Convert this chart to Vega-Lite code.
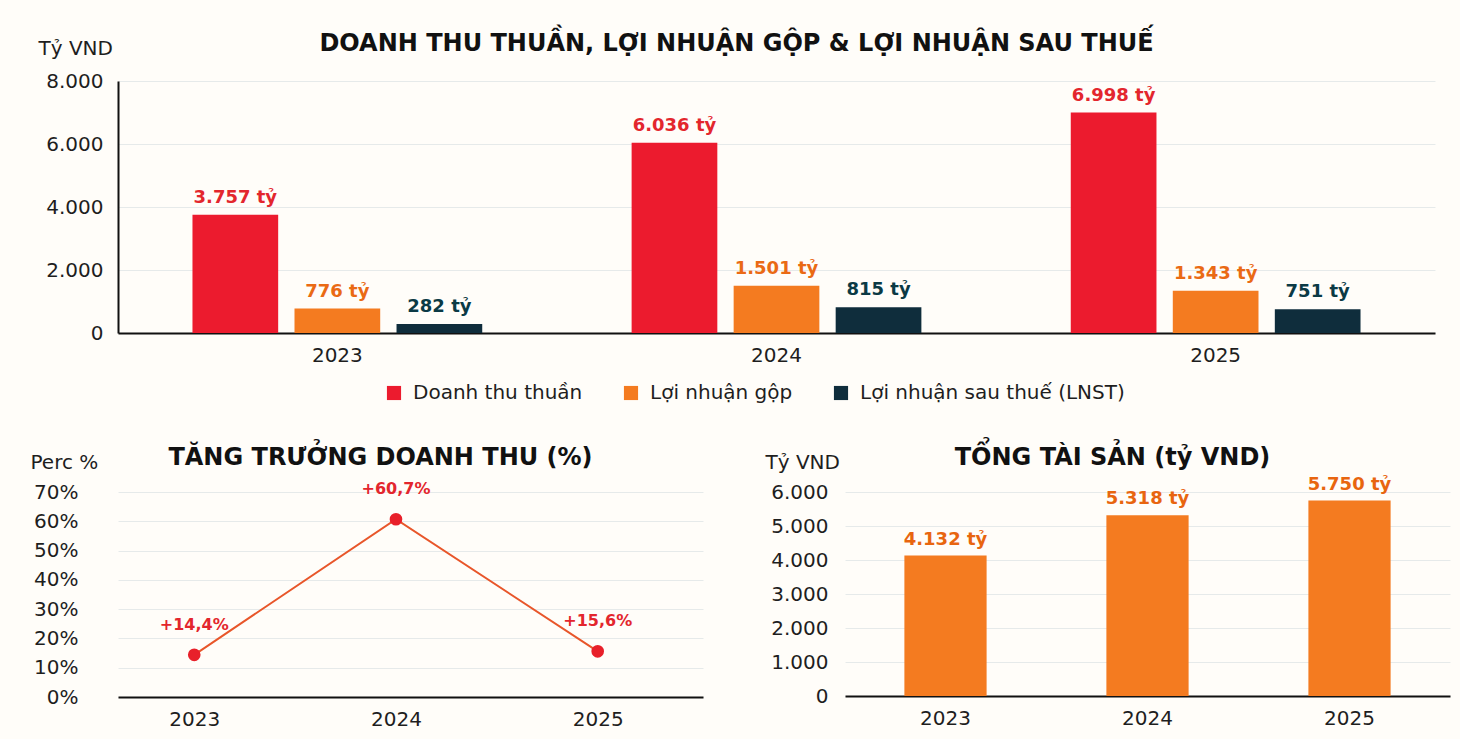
{
  "$schema": "https://vega.github.io/schema/vega-lite/v6.json",
  "background": "#fffdf9",
  "padding": {"left": 30, "top": 32, "right": 10, "bottom": 10},
  "config": {
    "font": "DejaVu Sans",
    "locale": {"number": {"decimal": ",", "thousands": ".", "grouping": [3], "currency": ["", " ₫"]}},
    "view": {"stroke": null},
    "title": {"font": "DejaVu Sans", "fontSize": 24, "fontWeight": "bold", "color": "#111111", "anchor": "middle"},
    "axis": {
      "labelFont": "DejaVu Sans",
      "labelFontSize": 20,
      "labelColor": "#1e1e1e",
      "titleFont": "DejaVu Sans",
      "titleFontSize": 20,
      "titleFontWeight": "normal",
      "titleColor": "#1e1e1e",
      "ticks": false,
      "gridColor": "#e6eaea",
      "domainColor": "#111111",
      "domainWidth": 2
    },
    "legend": {"labelFont": "DejaVu Sans", "labelFontSize": 20, "labelColor": "#1e1e1e", "labelLimit": 400}
  },
  "columns": 1,
  "align": "none",
  "spacing": 43,
  "concat": [
    {
      "title": {"text": "DOANH THU THUẦN, LỢI NHUẬN GỘP & LỢI NHUẬN SAU THUẾ", "dx": -40, "offset": -18},
      "width": 1317,
      "height": 252,
      "data": {
        "values": [
          {"year": "2023", "metric": "Doanh thu thuần", "value": 3757},
          {"year": "2023", "metric": "Lợi nhuận gộp", "value": 776},
          {"year": "2023", "metric": "Lợi nhuận sau thuế (LNST)", "value": 282},
          {"year": "2024", "metric": "Doanh thu thuần", "value": 6036},
          {"year": "2024", "metric": "Lợi nhuận gộp", "value": 1501},
          {"year": "2024", "metric": "Lợi nhuận sau thuế (LNST)", "value": 815},
          {"year": "2025", "metric": "Doanh thu thuần", "value": 6998},
          {"year": "2025", "metric": "Lợi nhuận gộp", "value": 1343},
          {"year": "2025", "metric": "Lợi nhuận sau thuế (LNST)", "value": 751}
        ]
      },
      "transform": [{"calculate": "format(datum.value, ',d') + ' tỷ'", "as": "label"}],
      "encoding": {
        "x": {
          "field": "year", "type": "ordinal",
          "scale": {"paddingInner": 0.303, "paddingOuter": 0.151},
          "axis": {"title": null, "labelAngle": 0, "labelPadding": 12}
        },
        "xOffset": {
          "field": "metric", "type": "nominal",
          "sort": ["Doanh thu thuần", "Lợi nhuận gộp", "Lợi nhuận sau thuế (LNST)"],
          "scale": {"paddingInner": 0.16, "paddingOuter": 0.08}
        },
        "y": {
          "field": "value", "type": "quantitative",
          "scale": {"domain": [0, 8000], "nice": false},
          "axis": {
            "values": [0, 2000, 4000, 6000, 8000],
            "format": ",d",
            "labelPadding": 15,
            "title": "Tỷ VND",
            "titleAngle": 0,
            "titleAlign": "left",
            "titleBaseline": "alphabetic",
            "titleX": -80,
            "titleY": -27
          }
        }
      },
      "layer": [
        {
          "mark": {"type": "bar"},
          "encoding": {
            "color": {
              "field": "metric", "type": "nominal",
              "scale": {
                "domain": ["Doanh thu thuần", "Lợi nhuận gộp", "Lợi nhuận sau thuế (LNST)"],
                "range": ["#ec1b2e", "#f47b20", "#0f2d3c"]
              },
              "legend": {
                "title": null,
                "orient": "none",
                "direction": "horizontal",
                "legendX": 266,
                "legendY": 302,
                "symbolType": "square",
                "symbolSize": 200,
                "symbolStrokeWidth": 0,
                "labelOffset": 9,
                "columnPadding": 38
              }
            }
          }
        },
        {
          "mark": {"type": "text", "dy": -17, "fontSize": 18, "fontWeight": "bold"},
          "encoding": {
            "text": {"field": "label"},
            "color": {
              "field": "metric", "type": "nominal", "legend": null,
              "scale": {
                "domain": ["Doanh thu thuần", "Lợi nhuận gộp", "Lợi nhuận sau thuế (LNST)"],
                "range": ["#e3262d", "#ea6a14", "#0b3a45"]
              }
            }
          }
        }
      ],
      "resolve": {"scale": {"color": "independent"}}
    },
    {
      "spacing": 62,
      "hconcat": [
        {
          "title": {"text": "TĂNG TRƯỞNG DOANH THU (%)", "dx": -30, "offset": -18},
          "width": 585,
          "height": 205,
          "data": {
            "values": [
              {"year": "2023", "growth": 14.4},
              {"year": "2024", "growth": 60.7},
              {"year": "2025", "growth": 15.6}
            ]
          },
          "transform": [{"calculate": "'+' + format(datum.growth, '.1f') + '%'", "as": "label"}],
          "encoding": {
            "x": {
              "field": "year", "type": "ordinal",
              "scale": {"type": "point", "padding": 0.45, "align": 0.42},
              "axis": {"title": null, "labelAngle": 0, "labelPadding": 12}
            },
            "y": {
              "field": "growth", "type": "quantitative",
              "scale": {"domain": [0, 70], "nice": false},
              "axis": {
                "values": [0, 10, 20, 30, 40, 50, 60, 70],
                "labelExpr": "datum.value + '%'",
                "domain": false,
                "labelPadding": 40,
                "title": "Perc %",
                "titleAngle": 0,
                "titleAlign": "left",
                "titleBaseline": "alphabetic",
                "titleX": -88,
                "titleY": -24
              }
            }
          },
          "layer": [
            {"mark": {"type": "line", "color": "#e8562a", "strokeWidth": 2}},
            {"mark": {"type": "point", "filled": true, "size": 160, "color": "#e8202a", "opacity": 1}},
            {
              "mark": {"type": "text", "dy": -30, "fontSize": 16, "fontWeight": "bold", "color": "#e3262d"},
              "encoding": {"text": {"field": "label"}}
            }
          ]
        },
        {
          "title": {"text": "TỔNG TÀI SẢN (tỷ VND)", "dx": -35, "offset": -18},
          "width": 605,
          "height": 204,
          "data": {
            "values": [
              {"year": "2023", "assets": 4132},
              {"year": "2024", "assets": 5318},
              {"year": "2025", "assets": 5750}
            ]
          },
          "transform": [{"calculate": "format(datum.assets, ',d') + ' tỷ'", "as": "label"}],
          "encoding": {
            "x": {
              "field": "year", "type": "ordinal",
              "scale": {"paddingInner": 0.593, "paddingOuter": 0.294},
              "axis": {"title": null, "labelAngle": 0, "labelPadding": 12}
            },
            "y": {
              "field": "assets", "type": "quantitative",
              "scale": {"domain": [0, 6000], "nice": false},
              "axis": {
                "values": [0, 1000, 2000, 3000, 4000, 5000, 6000],
                "format": ",d",
                "domain": false,
                "labelPadding": 17,
                "title": "Tỷ VND",
                "titleAngle": 0,
                "titleAlign": "left",
                "titleBaseline": "alphabetic",
                "titleX": -80,
                "titleY": -24
              }
            }
          },
          "layer": [
            {"mark": {"type": "bar", "color": "#f47b20"}},
            {
              "mark": {"type": "text", "dy": -16, "fontSize": 18, "fontWeight": "bold", "color": "#e8650f"},
              "encoding": {"text": {"field": "label"}}
            }
          ]
        }
      ]
    }
  ]
}
